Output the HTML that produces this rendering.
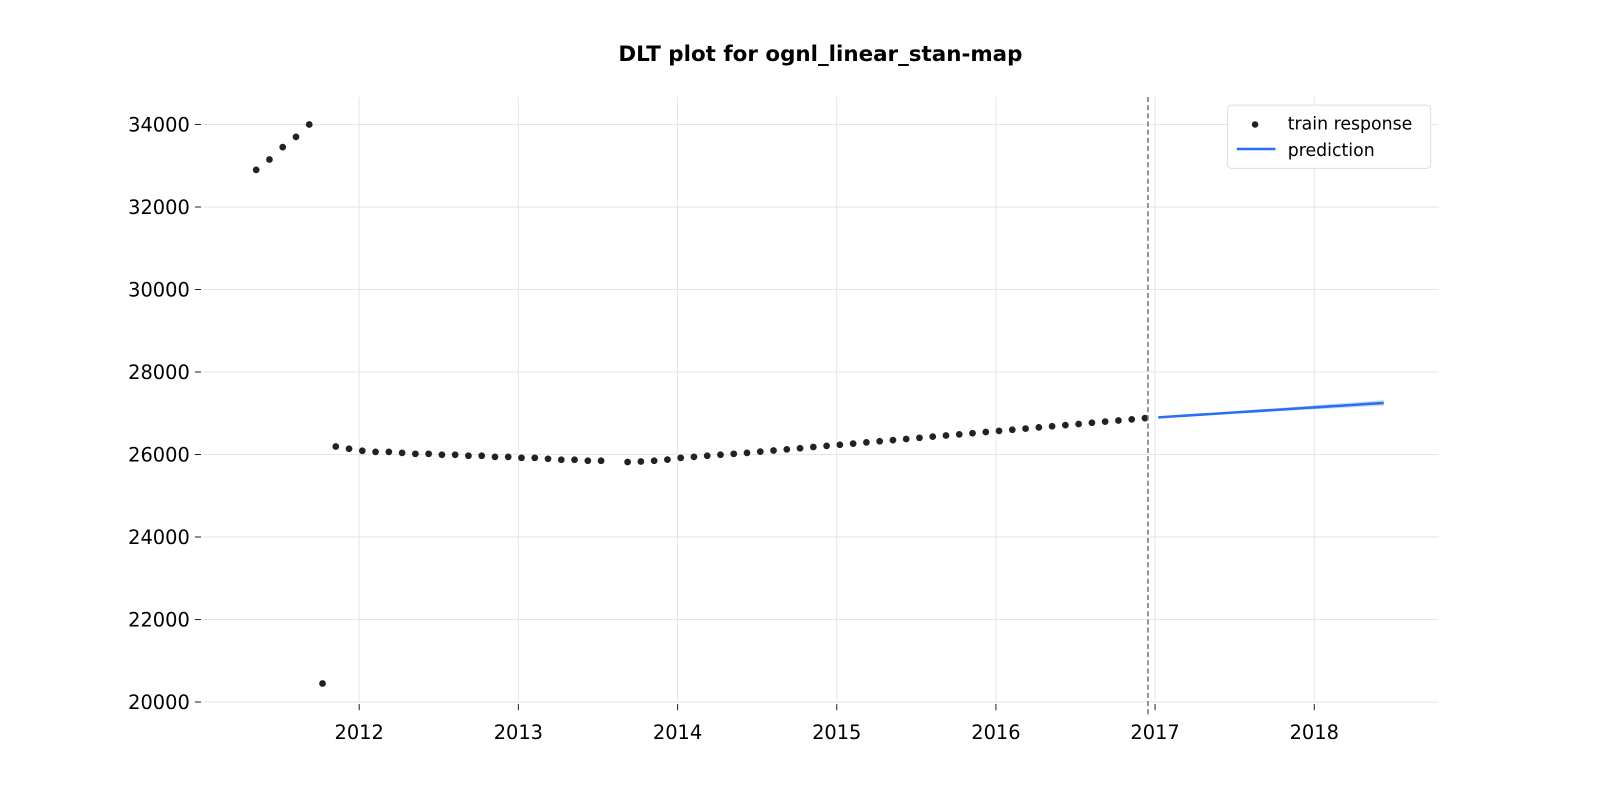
<!DOCTYPE html>
<html><head><meta charset="utf-8"><style>
body{margin:0;background:#fff;font-family:"Liberation Sans","DejaVu Sans",sans-serif}
</style></head><body>
<svg id="chart" width="1600" height="800" xmlns="http://www.w3.org/2000/svg" font-family="DejaVu Sans, Liberation Sans, sans-serif">
<g transform="scale(1.0204)">
<text x="804" y="60" text-anchor="middle" font-size="21" font-weight="bold">DLT plot for ognl_linear_stan-map</text>
<g id="grid"></g>
<g id="axes"></g>
<g id="marks"></g>
<g>
<rect x="1203" y="103" width="199" height="62" rx="4" fill="#fff" stroke="#ddd"/>
<circle cx="1230" cy="122" r="3.2" fill="#222"/>
<text x="1262" y="127" font-size="17">train response</text>
<line x1="1212" y1="146" x2="1250" y2="146" stroke="#2a6ff0" stroke-width="2.5"/>
<text x="1262" y="153" font-size="17">prediction</text>
</g>
</g>
</svg>
<script>
const trainIdx=[0,1,2,3,4,5,6,7,8,9,10,11,12,13,14,15,16,17,18,19,20,21,22,23,24,25,26,28,29,30,31,32,33,34,35,36,37,38,39,40,41,42,43,44,45,46,47,48,49,50,51,52,53,54,55,56,57,58,59,60,61,62,63,64,65,66,67];
const trainVals=[32900,33150,33450,33700,34000,20450,26194,26140,26090,26065,26065,26041,26017,26017,25993,25993,25969,25969,25944,25944,25920,25920,25896,25872,25872,25848,25848,25820,25830,25850,25875,25920,25944,25969,25993,26017,26041,26069,26097,26125,26153,26181,26209,26237,26265,26293,26321,26349,26377,26405,26433,26461,26489,26517,26545,26573,26601,26629,26657,26685,26713,26741,26769,26797,26825,26853,26881];
const predIdx=[68,69,70,71,72,73,74,75,76,77,78,79,80,81,82,83,84,85];
const predVals=[26900,26921,26941,26962,26982,27003,27024,27044,27065,27085,27106,27127,27147,27168,27188,27209,27230,27250];
const predLow=[26890,26908,26926,26944,26960,26978,26996,27012,27030,27048,27064,27082,27098,27116,27132,27150,27166,27182];
const predHigh=[26910,26934,26958,26982,27006,27030,27054,27078,27102,27126,27150,27174,27198,27222,27246,27270,27294,27318];
const startYear=2011.353, trainEndYear=2016.955;
const xTicks=[2012,2013,2014,2015,2016,2017,2018];
const yTicks=[20000,22000,24000,26000,28000,30000,32000,34000];
const NS='http://www.w3.org/2000/svg';
const X=yr=>352+(yr-2012)*156;
const Y=v=>688-(v-20000)*(566/14000);
const dateOf=i=>startYear+i/12;
function mk(p,t,a){const e=document.createElementNS(NS,t);for(const k in a)e.setAttribute(k,a[k]);document.getElementById(p).appendChild(e);return e;}
xTicks.forEach(t=>{
 const l=mk('grid','line',{x1:X(t),x2:X(t),y1:95,y2:688,stroke:'#e6e6e6'});
 
 
 mk('axes','line',{x1:X(t),x2:X(t),y1:690,y2:696,stroke:'#222'});
 const tx=mk('axes','text',{x:X(t),y:724,'text-anchor':'middle','font-size':'19'});tx.textContent=t;
 
 
});
yTicks.forEach(t=>{
 const l=mk('grid','line',{x1:200,x2:1410,y1:Y(t),y2:Y(t),stroke:'#e6e6e6'});
 
 
 mk('axes','line',{x1:191,x2:197,y1:Y(t),y2:Y(t),stroke:'#222'});
 const tx=mk('axes','text',{x:186,y:Y(t)+7,'text-anchor':'end','font-size':'19'});tx.textContent=t;
 
 
});
trainIdx.forEach((n,i)=>{
 const c=mk('marks','circle',{cx:X(dateOf(n)),cy:Y(trainVals[i]),r:3.3,fill:'#222'});
 
 
});
let band='';predIdx.forEach((n,i)=>band+=(i?'L':'M')+X(dateOf(n))+','+Y(predHigh[i]));
for(let i=predIdx.length-1;i>=0;i--)band+='L'+X(dateOf(predIdx[i]))+','+Y(predLow[i]);
const b=mk('marks','path',{d:band+'Z',fill:'#2a6ff0','fill-opacity':'0.25'});


const pl=mk('marks','polyline',{points:predIdx.map((n,i)=>X(dateOf(n))+','+Y(predVals[i])).join(' '),fill:'none',stroke:'#2a6ff0','stroke-width':'2.5'});


const vl=mk('marks','line',{x1:X(trainEndYear),x2:X(trainEndYear),y1:95,y2:700,stroke:'#777','stroke-width':'1.5','stroke-dasharray':'5,3'});


</script>
</body></html>
